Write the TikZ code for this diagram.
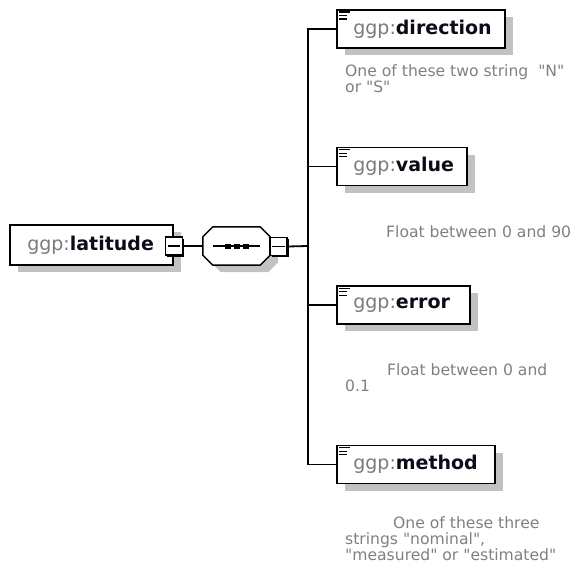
\documentclass[tikz,border=0pt]{standalone}
\usepackage{fontspec}
\setmainfont{DejaVu Sans}[Ligatures=TeXOff]
\usetikzlibrary{shadows}
\definecolor{prefixgrey}{HTML}{7A7A7A}
\definecolor{notegrey}{HTML}{808080}
\definecolor{shadowgrey}{HTML}{C2C2C2}
\definecolor{namecol}{HTML}{0C0C18}
\tikzset{
  elembox/.style={draw=black, line width=1.8pt, fill=white, inner sep=0pt,
    minimum height=38pt,
    drop shadow={shadow xshift=8pt, shadow yshift=-7pt, fill=shadowgrey, opacity=1}},
  elemname/.style={anchor=west, inner sep=0pt,
    font=\fontsize{19}{22}\selectfont},
  note/.style={anchor=base west, inner sep=0pt, text=notegrey,
    font=\fontsize{15.6}{16}\selectfont},
  conn/.style={draw=black, line width=1.8pt},
  minusbox/.style={draw=black, line width=1.3pt, fill=white, inner sep=0pt,
    minimum width=17pt, minimum height=18pt,
    drop shadow={shadow xshift=1.8pt, shadow yshift=-1.8pt, fill=black, opacity=1}},
  icon/.style={draw=black, line width=1.2pt}
}
\newcommand{\elname}[1]{\textcolor{prefixgrey}{ggp:}\textcolor{namecol}{\textbf{#1}}}
% three-line marker in the upper left corner of a child element
\newcommand{\marker}[1]{%
  \draw[icon] ([xshift=3pt,yshift=-3pt]#1.north west) -- ++(11pt,0);
  \draw[icon] ([xshift=3pt,yshift=-6.5pt]#1.north west) -- ++(8pt,0);
  \draw[icon] ([xshift=3pt,yshift=-10pt]#1.north west) -- ++(8pt,0);}
\begin{document}
\begin{tikzpicture}[x=1pt,y=-1pt]
\useasboundingbox (0,0) rectangle (577,583);

% root element
\node[elembox, minimum width=163pt, minimum height=40pt] (lat) at (91.5,245) {};
\node[elemname] (latname) at ([xshift=18pt]lat.west) {\elname{latitude}};

% sequence compositor
\node[inner sep=0pt, minimum width=67pt, minimum height=38pt] (seq) at (236.5,246) {};
\draw[line width=1.5pt, fill=white,
      drop shadow={shadow xshift=8pt, shadow yshift=-7pt, fill=shadowgrey, opacity=1}]
  ([xshift=10pt]seq.north west) -- ([xshift=-10pt]seq.north east)
  -- ([yshift=-10pt]seq.north east) -- ([yshift=10pt]seq.south east)
  -- ([xshift=-10pt]seq.south east) -- ([xshift=10pt]seq.south west)
  -- ([yshift=10pt]seq.south west) -- ([yshift=-10pt]seq.north west) -- cycle;
\draw[line width=1.5pt] ([xshift=10pt]seq.west) -- ([xshift=-10pt]seq.east);
\foreach \dx in {-9,0,9}
  \fill[black] ([xshift=\dx pt]seq.center) +(-3,-2.5) rectangle +(3,2.5);

% collapse boxes
\node[minusbox] (m1) at (174,246) {};
\draw[line width=1.3pt] ([xshift=3pt]m1.west) -- ([xshift=-3pt]m1.east);
\node[minusbox] (m2) at (278.5,246.5) {};
\draw[line width=1.3pt] ([xshift=3pt]m2.west) -- ([xshift=-3pt]m2.east);

% child elements
\node[elembox, minimum width=168pt] (dir) at (421,29) {};
\node[elemname] (dirname) at ([xshift=17pt]dir.west) {\elname{direction}};
\marker{dir}
\node[elembox, minimum width=130pt] (val) at (402,166.5) {};
\node[elemname] (valname) at ([xshift=17pt]val.west) {\elname{value}};
\marker{val}
\node[elembox, minimum width=133pt] (err) at (403.5,305) {};
\node[elemname] (errname) at ([xshift=17pt]err.west) {\elname{error}};
\marker{err}
\node[elembox, minimum width=158pt] (meth) at (416,464.5) {};
\node[elemname] (methname) at ([xshift=17pt]meth.west) {\elname{method}};
\marker{meth}

% connectors
\coordinate (trunk) at (308,246);
\draw[conn] (m1.east) -- (seq.west);
\draw[conn] (m2.east) -- (trunk);
\draw[conn] (dir.west) -| (trunk);
\draw[conn] (val.west) -| (trunk);
\draw[conn] (err.west) -| (trunk);
\draw[conn] (meth.west) -| (trunk);

% annotations
\node[note] (dn1) at (345,77) {One of these two string\ \ "N"};
\node[note] (dn2) at (345,93) {or "S"};
\node[note] (vn1) at (386,237) {Float between 0 and 90};
\node[note] (en1) at (387,375) {Float between 0 and};
\node[note] (en2) at (345,391) {0.1};
\node[note] (mn1) at (393,528) {One of these three};
\node[note] (mn2) at (345,544) {strings "nominal",};
\node[note] (mn3) at (345,560) {"measured" or "estimated"};
\end{tikzpicture}
\end{document}
